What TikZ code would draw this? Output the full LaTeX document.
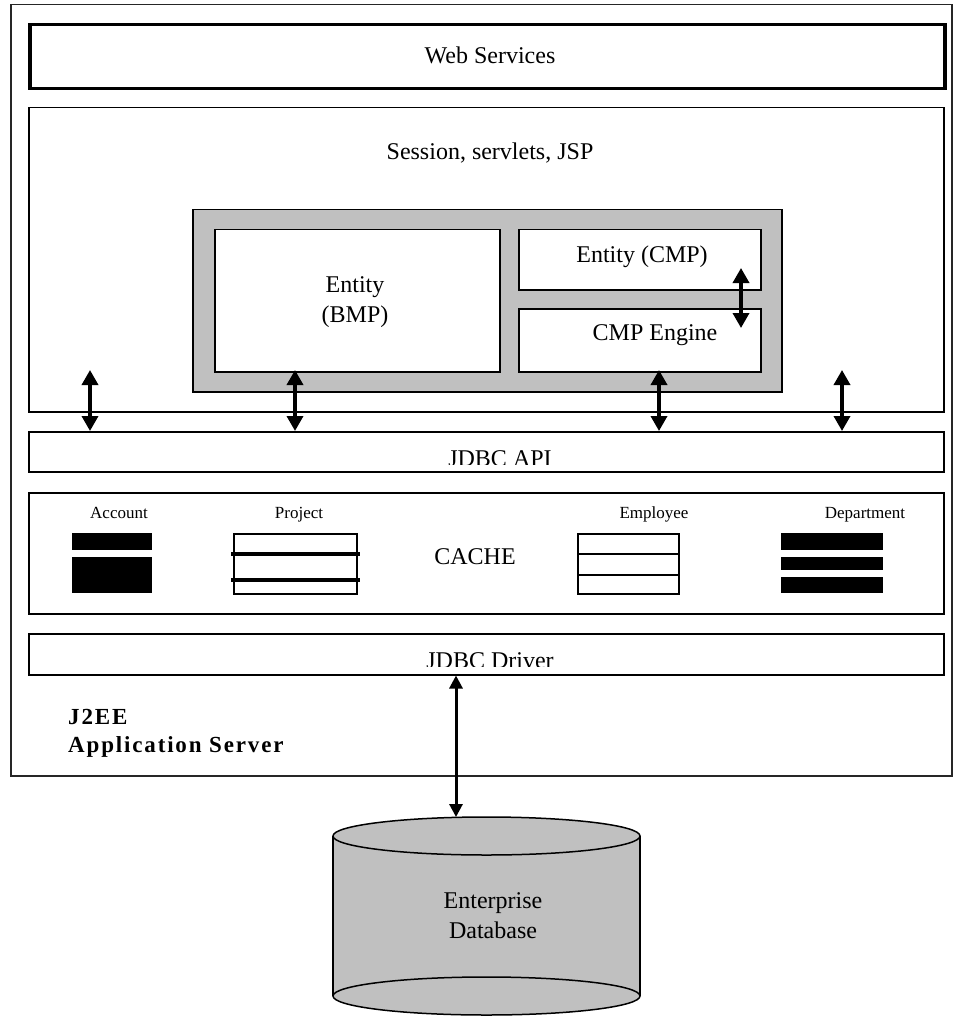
\documentclass[tikz,border=0pt]{standalone}
\usepackage{fontspec}
\setmainfont{Liberation Serif}
\usetikzlibrary{arrows.meta,calc}
\definecolor{boxgray}{RGB}{192,192,192}
\begin{document}
\begin{tikzpicture}[x=1pt,y=-1pt,
  box/.style={draw, line width=1.5pt, rectangle, inner sep=0pt, anchor=north west, fill=white},
  lbl/.style={font=\fontsize{24}{30}\selectfont, align=center, inner sep=0pt},
  smalllbl/.style={font=\fontsize{17}{20}\selectfont, inner sep=0pt, anchor=base},
  srvlbl/.style={font=\fontsize{23}{28}\selectfont\bfseries\addfontfeature{LetterSpace=8}, inner sep=0pt, anchor=base west},
  blk/.style={fill=black, inner sep=0pt, anchor=north west},
  dbl/.style={line width=3.5pt, {Triangle[width=16pt,length=15pt]}-{Triangle[width=16pt,length=15pt]}},
]
\useasboundingbox (0,0) rectangle (954,1016);
% outer application server
\node[box, draw=black!85, minimum width=941, minimum height=771] (outer) at (10,4) {};
% web services
\node[box, line width=3.5pt, minimum width=915, minimum height=64] (web) at (28,23) {};
\node[lbl] (weblbl) at (490,55) {Web Services};
% session box
\node[box, minimum width=915, minimum height=304] (session) at (28,107) {};
\node[lbl] (seslbl) at (490,153) {Session, servlets, JSP};
% gray container
\node[box, fill=boxgray, minimum width=589, minimum height=182] (grayc) at (192,209) {};
\node[box, minimum width=285, minimum height=142] (bmp) at (214,229) {};
\node[lbl] (bmplbl) at (355,302) {Entity\\(BMP)};
\node[box, minimum width=242, minimum height=60] (cmp) at (518,229) {};
\node[lbl] (cmplbl) at (642,257) {Entity (CMP)};
\node[box, minimum width=242, minimum height=63] (engine) at (518,308) {};
\node[lbl] (englbl) at (655,335) {CMP Engine};
% JDBC API
\node[box, minimum width=915, minimum height=40] (api) at (28,431) {};
\begin{scope}
  \clip (api.north west) rectangle ($(api.south east)+(0,-8)$);
  \node[lbl, anchor=base] (apilbl) at (500,466) {JDBC API};
\end{scope}
% cache
\node[box, minimum width=915, minimum height=121] (cache) at (28,492) {};
\node[lbl] (cachelbl) at (475,557) {CACHE};
\node[smalllbl] (acclbl) at (119,518) {Account};
\node[smalllbl] (projlbl) at (299,518) {Project};
\node[smalllbl] (emplbl) at (654,518) {Employee};
\node[smalllbl] (deplbl) at (865,518) {Department};
% account icon
\node[blk, minimum width=80, minimum height=17] (acc1) at (72,533) {};
\node[blk, minimum width=80, minimum height=36] (acc2) at (72,557) {};
% project icon
\node[box, minimum width=123, minimum height=60] (proj) at (233,533) {};
\draw[line width=4pt] ($(proj.west)+(-2,-10)$) coordinate (pa) -- ($(pa -| proj.east)+(2,0)$);
\draw[line width=4pt] ($(proj.west)+(-2,16)$) coordinate (pb) -- ($(pb -| proj.east)+(2,0)$);
% employee icon
\node[box, minimum width=101, minimum height=60] (emp) at (577,533) {};
\draw[line width=1.5pt] ($(emp.west)+(0,-10)$) coordinate (ea) -- (ea -| emp.east);
\draw[line width=1.5pt] ($(emp.west)+(0,11)$) coordinate (eb) -- (eb -| emp.east);
% department icon
\node[blk, minimum width=102, minimum height=17] (dep1) at (781,533) {};
\node[blk, minimum width=102, minimum height=13] (dep2) at (781,557) {};
\node[blk, minimum width=102, minimum height=16] (dep3) at (781,577) {};
% JDBC driver
\node[box, minimum width=915, minimum height=41] (driver) at (28,633) {};
\begin{scope}
  \clip (driver.north west) rectangle ($(driver.south east)+(0,-9)$);
  \node[lbl, anchor=base] (drvlbl) at (490,668) {JDBC Driver};
\end{scope}
% server label
\node[srvlbl] (j2ee) at (68,724) {J2EE};
\node[srvlbl] (appsrv) at (68,752) {Application Server};
% arrows between session and JDBC API
\coordinate (s1) at (90,370);
\coordinate (s2) at (295,370);
\coordinate (s3) at (659,370);
\coordinate (s4) at (842,370);
\draw[dbl] (s1) -- (s1 |- api.north);
\draw[dbl] (s2) -- (s2 |- api.north);
\draw[dbl] (s3) -- (s3 |- api.north);
\draw[dbl] (s4) -- (s4 |- api.north);
% CMP arrow
\coordinate (c1) at (741,268);
\coordinate (c2) at (741,328);
\draw[dbl] (c1) -- (c2);
% database
\fill[boxgray] (333,836) rectangle (640,996);
\filldraw[fill=boxgray, draw=black, line width=1.5pt] (486.5,996) ellipse [x radius=153.5, y radius=19];
\draw[line width=1.5pt] (333,836) -- (333,996);
\draw[line width=1.5pt] (640,836) -- (640,996);
\filldraw[fill=boxgray, draw=black, line width=1.5pt] (486.5,836) ellipse [x radius=153.5, y radius=19];
\node[lbl] (dblbl) at (493,916) {Enterprise\\Database};
\coordinate (dbtop) at (456,817);
\coordinate (drvpt) at (456,674);
\draw[line width=3pt, {Triangle[width=13pt,length=13pt]}-{Triangle[width=13pt,length=13pt]}] (drvpt |- driver.south) -- (dbtop);
\end{tikzpicture}
\end{document}
